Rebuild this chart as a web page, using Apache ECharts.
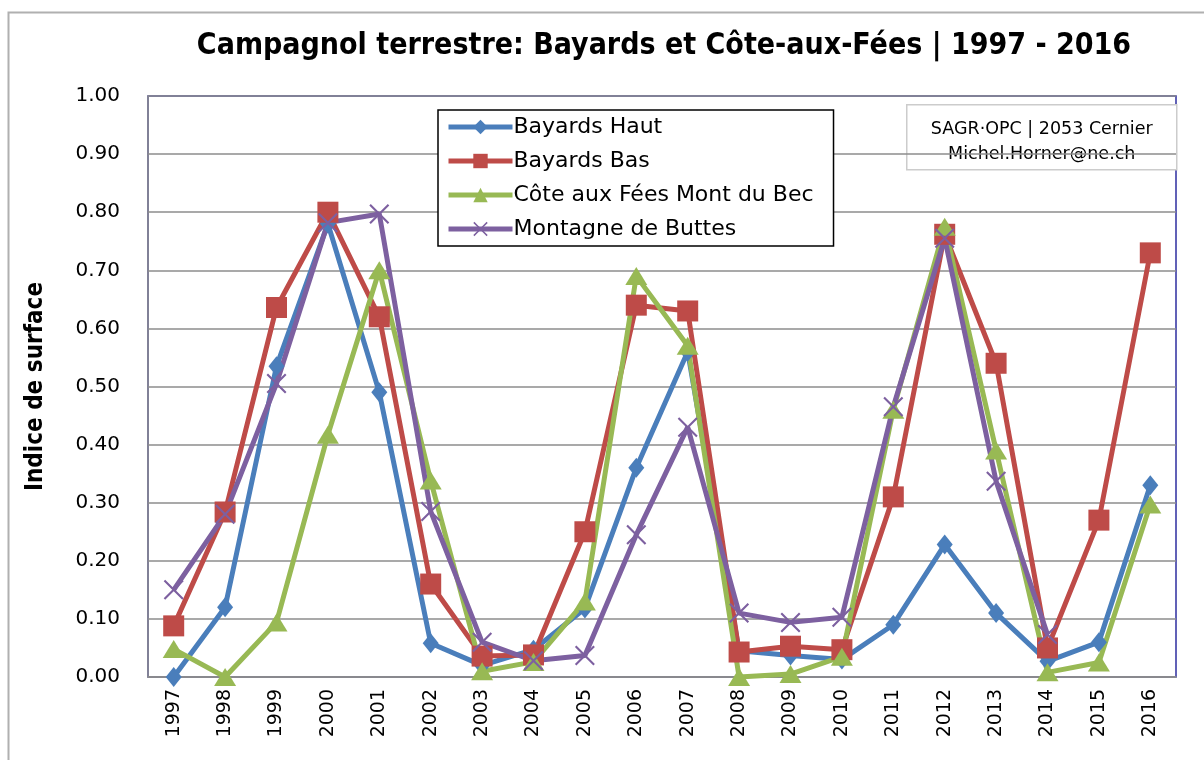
<!DOCTYPE html>
<html>
<head>
<meta charset="utf-8">
<script src="https://cdn.jsdelivr.net/npm/echarts@6/dist/echarts.min.js"></script>
<style>
  html, body { margin: 0; padding: 0; background: #fff; }
  #chart { width: 1204px; height: 760px; }
</style>
</head>
<body>
<div id="chart"></div>
<script>
// years on the x axis
var years = ['1997','1998','1999','2000','2001','2002','2003','2004','2005','2006',
             '2007','2008','2009','2010','2011','2012','2013','2014','2015','2016'];

var bayardsHaut = [0.00, 0.12, 0.535, 0.78, 0.49, 0.058, 0.02, 0.047, 0.118, 0.36,
                   0.56, 0.045, 0.037, 0.03, 0.09, 0.228, 0.11, 0.027, 0.06, 0.33];
var bayardsBas  = [0.088, 0.284, 0.636, 0.80, 0.62, 0.16, 0.036, 0.038, 0.25, 0.64,
                   0.63, 0.043, 0.053, 0.047, 0.31, 0.762, 0.54, 0.05, 0.27, 0.73];
var coteAuxFees = [0.048, 0.00, 0.094, 0.417, 0.70, 0.338, 0.01, 0.026, 0.13, 0.69,
                   0.57, 0.00, 0.005, 0.035, 0.46, 0.775, 0.39, 0.008, 0.025, 0.297];
var montagne    = [0.15, 0.28, 0.505, 0.782, 0.797, 0.285, 0.06, 0.028, 0.037, 0.245,
                   0.43, 0.11, 0.094, 0.103, 0.465, 0.755, 0.337, 0.073, null, null];

var names = ['Bayards Haut', 'Bayards Bas', 'Côte aux Fées Mont du Bec', 'Montagne de Buttes'];
var colors = ['#4a7ebb', '#be4b48', '#98b954', '#7d60a0'];

var crossPath = 'path://M0,1.5L1.5,0L10,8.5L18.5,0L20,1.5L11.5,10L20,18.5L18.5,20L10,11.5L1.5,20L0,18.5L8.5,10Z';

var font = 'DejaVu Sans, Verdana, sans-serif';

function mkSeries(name, data, color, symbol, size) {
  return {
    name: name,
    type: 'line',
    data: data,
    symbol: symbol,
    symbolSize: size,
    connectNulls: false,
    lineStyle: { width: 5, color: color },
    itemStyle: { color: color },
    emphasis: { disabled: true }
  };
}

var chart = echarts.init(document.getElementById('chart'));
chart.setOption({
  animation: false,
  color: colors,
  title: {
    text: 'Campagnol terrestre: Bayards et Côte-aux-Fées | 1997 - 2016',
    left: 659,
    top: 26,
    textAlign: 'center',
    textStyle: {
      fontFamily: "'Liberation Sans Narrow', 'DejaVu Sans Condensed', 'Open Sans', sans-serif",
      fontWeight: 'bold',
      fontSize: 30,
      color: '#000'
    }
  },
  legend: {
    orient: 'vertical',
    left: 438,
    top: 110,
    itemWidth: 64,
    itemHeight: 18,
    itemGap: 12,
    padding: [6, 20, 6, 8],
    backgroundColor: '#fff',
    borderColor: '#000',
    borderWidth: 1.5,
    borderRadius: 0,
    lineStyle: { width: 5 },
    textStyle: { fontFamily: font, fontSize: 22, color: '#000', padding: [0, 0, 0, -4] },
    data: names
  },
  grid: {
    left: 148,
    right: 28,
    top: 96,
    bottom: 83,
    show: true,
    borderColor: '#2e2ea0',
    borderWidth: 1.5,
    containLabel: false
  },
  xAxis: {
    type: 'category',
    data: years,
    boundaryGap: true,
    axisLine: { lineStyle: { color: '#8c8c8c', width: 1.5 } },
    axisTick: { show: false },
    axisLabel: {
      rotate: 90,
      margin: 12,
      fontFamily: font,
      fontSize: 19,
      color: '#000'
    }
  },
  yAxis: {
    type: 'value',
    min: 0,
    max: 1,
    interval: 0.1,
    name: 'Indice de surface',
    nameLocation: 'middle',
    nameGap: 100,
    nameRotate: 90,
    nameTextStyle: {
      fontFamily: "'Liberation Sans Narrow', 'DejaVu Sans Condensed', 'Open Sans', sans-serif",
      fontWeight: 'bold',
      fontSize: 24,
      color: '#000'
    },
    axisLine: { show: true, lineStyle: { color: '#8c8c8c', width: 1.5 } },
    axisTick: { show: false },
    splitLine: { lineStyle: { color: '#8c8c8c', width: 1.5 } },
    axisLabel: {
      margin: 28,
      fontFamily: font,
      fontSize: 20,
      color: '#000',
      formatter: function (v) { return v.toFixed(2); }
    }
  },
  graphic: [
    {
      type: 'rect',
      left: 6,
      top: 10,
      shape: { width: 1400, height: 900 },
      style: { fill: null, stroke: '#b0b0b0', lineWidth: 2 },
      silent: true
    },
    {
      type: 'group',
      left: 906,
      top: 104,
      children: [
        {
          type: 'rect',
          shape: { x: 0, y: 0, width: 270, height: 65 },
          style: { fill: '#fff', stroke: '#cccccc', lineWidth: 1.5 }
        },
        {
          type: 'text',
          x: 135,
          y: 12,
          style: {
            text: 'SAGR·OPC | 2053 Cernier\nMichel.Horner@ne.ch',
            align: 'center',
            verticalAlign: 'top',
            lineHeight: 25,
            font: '17.5px ' + font,
            fill: '#000'
          }
        }
      ]
    }
  ],
  series: [
    mkSeries(names[0], bayardsHaut, colors[0], 'diamond', [16, 20]),
    mkSeries(names[1], bayardsBas, colors[1], 'rect', 21),
    mkSeries(names[2], coteAuxFees, colors[2], 'triangle', [22, 18]),
    mkSeries(names[3], montagne, colors[3], crossPath, 20)
  ]
});
</script>
</body>
</html>
